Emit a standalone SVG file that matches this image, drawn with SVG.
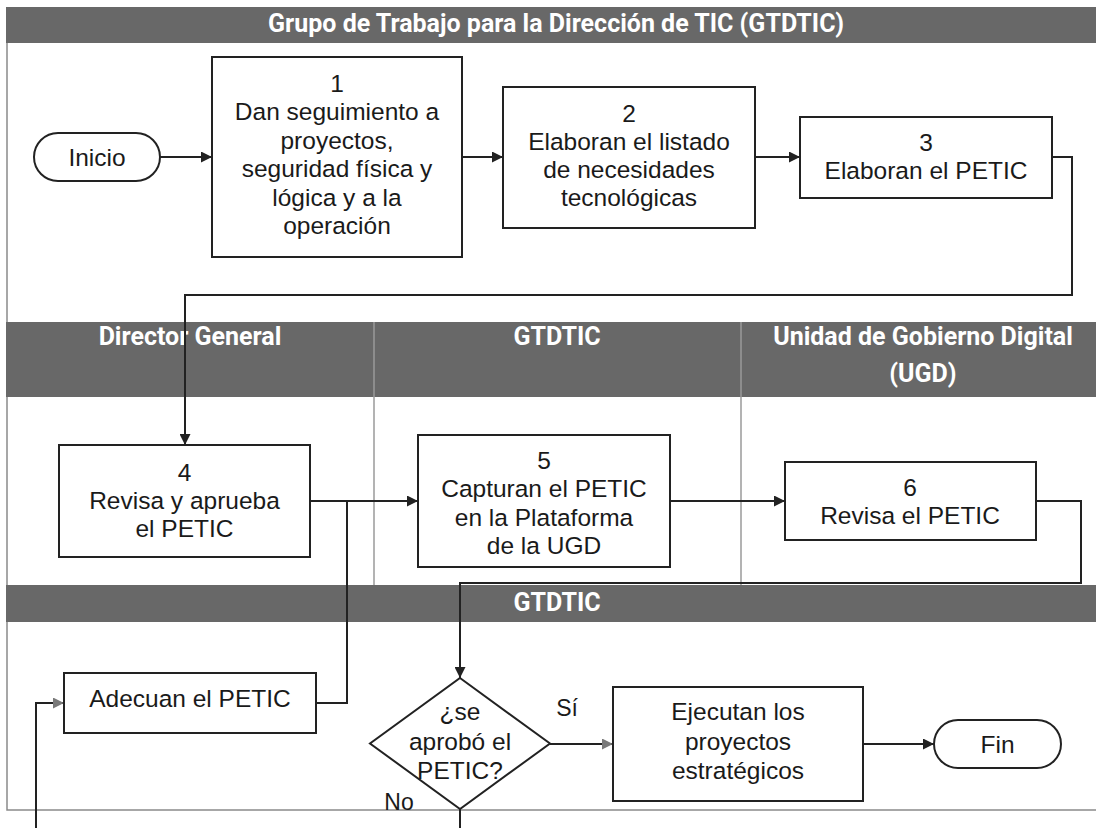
<svg xmlns="http://www.w3.org/2000/svg" width="1096" height="828" viewBox="0 0 1096 828">
<defs>
<marker id="arr" viewBox="0 0 10 10" refX="10" refY="5" markerWidth="13" markerHeight="11" markerUnits="userSpaceOnUse" orient="auto"><path d="M0,0 L10,5 L0,10 z" fill="#222"/></marker>
<marker id="arrg" viewBox="0 0 10 10" refX="10" refY="5" markerWidth="13" markerHeight="11" markerUnits="userSpaceOnUse" orient="auto"><path d="M0,0 L10,5 L0,10 z" fill="#7a7a7a"/></marker>
</defs>
<style>
.hdr{fill:#686868}
.lane{fill:none;stroke:#8a8a8a;stroke-width:1.5}
.div{stroke:#9a9a9a;stroke-width:1.5}
.box{fill:#fff;stroke:#222;stroke-width:2}
.ln{fill:none;stroke:#222;stroke-width:2}
.h{font-family:Roboto,"Liberation Sans",sans-serif;font-weight:bold;font-size:25px;fill:#fff;text-anchor:middle}
.t{font-family:"Liberation Sans",Arial,sans-serif;font-size:24.5px;fill:#1a1a1a;text-anchor:middle}
.l{font-family:"Liberation Sans",Arial,sans-serif;font-size:23px;fill:#1a1a1a;text-anchor:middle}
</style>
<rect width="1096" height="828" fill="#fff"/>
<g id="lanes">
<path class="lane" d="M7,43 V810 H1096"/>
<rect class="hdr" x="6" y="7" width="1090" height="36"/>
<rect class="hdr" x="6" y="322" width="1090" height="75"/>
<rect class="hdr" x="6" y="585" width="1090" height="37"/>
<line class="div" x1="374" y1="322" x2="374" y2="585"/>
<line class="div" x1="741" y1="322" x2="741" y2="585"/>
<text class="h" x="556" y="32">Grupo de Trabajo para la Dirección de TIC (GTDTIC)</text>
<text class="h" x="190" y="345">Director General</text>
<text class="h" x="557" y="345">GTDTIC</text>
<text class="h" x="923" y="345">Unidad de Gobierno Digital</text>
<text class="h" x="923" y="382">(UGD)</text>
<text class="h" x="557" y="611">GTDTIC</text>
</g>
<g id="connectors">
<line class="ln" x1="160" y1="157" x2="212" y2="157" marker-end="url(#arr)"/>
<line class="ln" x1="462" y1="157" x2="503" y2="157" marker-end="url(#arr)"/>
<line class="ln" x1="755" y1="157" x2="800" y2="157" marker-end="url(#arr)"/>
<path class="ln" d="M1052,157 H1072 V295 H185 V445" marker-end="url(#arr)"/>
<line class="ln" x1="310" y1="501" x2="418" y2="501" marker-end="url(#arr)"/>
<path class="ln" d="M316,703 H347 V501"/>
<line class="ln" x1="670" y1="501" x2="785" y2="501" marker-end="url(#arr)"/>
<path class="ln" d="M1036,501 H1081 V583 H460 V678" marker-end="url(#arr)"/>
<line class="ln" x1="550" y1="744" x2="613" y2="744" marker-end="url(#arrg)"/>
<line class="ln" x1="863" y1="744" x2="934" y2="744" marker-end="url(#arr)"/>
<line class="ln" x1="460" y1="809" x2="460" y2="828"/>
<path class="ln" d="M36,828 V703 H64" marker-end="url(#arrg)"/>
</g>
<g id="inicio">
<rect class="box" x="34" y="133" width="126" height="48" rx="24"/>
<text class="t" x="97" y="166">Inicio</text>
</g>
<g id="n1">
<rect class="box" x="212" y="57" width="250" height="200"/>
<text class="t" x="337" y="91.5">1</text>
<text class="t" x="337" y="120">Dan seguimiento a</text>
<text class="t" x="337" y="148.5">proyectos,</text>
<text class="t" x="337" y="177">seguridad física y</text>
<text class="t" x="337" y="205.5">lógica y a la</text>
<text class="t" x="337" y="234">operación</text>
</g>
<g id="n2">
<rect class="box" x="503" y="87" width="252" height="141"/>
<text class="t" x="629" y="121.5">2</text>
<text class="t" x="629" y="149.5">Elaboran el listado</text>
<text class="t" x="629" y="178">de necesidades</text>
<text class="t" x="629" y="206">tecnológicas</text>
</g>
<g id="n3">
<rect class="box" x="800" y="117" width="252" height="81"/>
<text class="t" x="926" y="150.5">3</text>
<text class="t" x="926" y="178.5">Elaboran el PETIC</text>
</g>
<g id="n4">
<rect class="box" x="59" y="445" width="251" height="112"/>
<text class="t" x="184.5" y="480.5">4</text>
<text class="t" x="184.5" y="508.5">Revisa y aprueba</text>
<text class="t" x="184.5" y="536.5">el PETIC</text>
</g>
<g id="n5">
<rect class="box" x="418" y="435" width="252" height="132"/>
<text class="t" x="544" y="469">5</text>
<text class="t" x="544" y="497">Capturan el PETIC</text>
<text class="t" x="544" y="525.5">en la Plataforma</text>
<text class="t" x="544" y="554">de la UGD</text>
</g>
<g id="n6">
<rect class="box" x="785" y="462" width="251" height="78"/>
<text class="t" x="910" y="495.5">6</text>
<text class="t" x="910" y="524">Revisa el PETIC</text>
</g>
<g id="adecuan">
<rect class="box" x="64" y="673" width="252" height="60"/>
<text class="t" x="190" y="706.5">Adecuan el PETIC</text>
</g>
<g id="decision">
<polygon class="box" points="460,678 550,743.5 460,809 370,743.5"/>
<text class="t" x="460" y="720">¿se</text>
<text class="t" x="460" y="750">aprobó el</text>
<text class="t" x="460" y="778.5">PETIC?</text>
<text class="l" x="399" y="810">No</text>
<text class="l" x="567" y="716">Sí</text>
</g>
<g id="ejecutan">
<rect class="box" x="613" y="687" width="250" height="114"/>
<text class="t" x="738" y="720">Ejecutan los</text>
<text class="t" x="738" y="750">proyectos</text>
<text class="t" x="738" y="778.5">estratégicos</text>
</g>
<g id="fin">
<rect class="box" x="934" y="720" width="127" height="48" rx="24"/>
<text class="t" x="997.5" y="753">Fin</text>
</g>
</svg>
